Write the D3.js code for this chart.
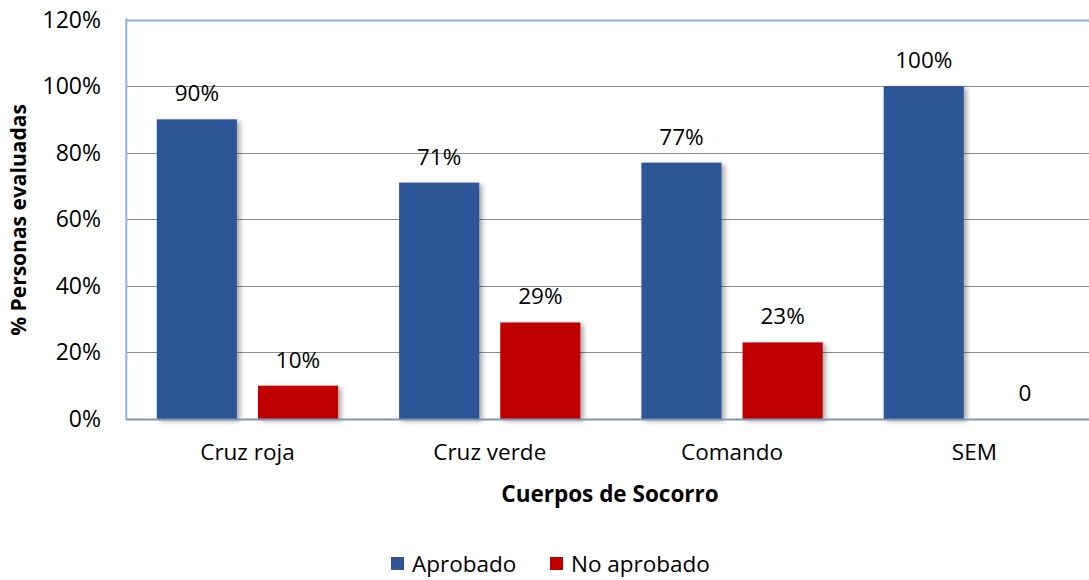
<!DOCTYPE html>
<html>
<head>
<meta charset="utf-8">
<script src="https://cdn.jsdelivr.net/npm/d3@7"></script>
<style>
  body { margin: 0; background: #fff; }
  svg text { font-family: "Open Sans", "Liberation Sans", sans-serif; fill: #000; }
</style>
</head>
<body>
<div id="chart"></div>
<script>
var categories = ["Cruz roja", "Cruz verde", "Comando", "SEM"];
var series = ["Aprobado", "No aprobado"];
var aprobado = [0.90, 0.71, 0.77, 1.00];
var noAprobado = [0.10, 0.29, 0.23, 0];
var noAprobadoLabels = ["10%", "29%", "23%", "0"];
var yTicks = [0, 0.2, 0.4, 0.6, 0.8, 1.0, 1.2];
var colors = ["#2f5597", "#c00000"];

var width = 1089,
  height = 580;

var plot = { left: 126.3, right: 1095.5, top: 19.5, bottom: 419 };

var svg = d3.select("#chart")
  .append("svg")
  .attr("width", width)
  .attr("height", height);

// soft shadow like the office chart
var defs = svg.append("defs");
var filt = defs.append("filter")
  .attr("id", "shadow")
  .attr("x", "-10%").attr("y", "-10%")
  .attr("width", "130%").attr("height", "130%");
filt.append("feDropShadow")
  .attr("dx", 3).attr("dy", 2)
  .attr("stdDeviation", 2.5)
  .attr("flood-color", "#000")
  .attr("flood-opacity", 0.35);

var x0 = d3.scaleBand()
  .domain(categories)
  .range([plot.left, plot.right]);

var x1 = d3.scaleBand()
  .domain(series)
  .range([30.5, x0.bandwidth() - 30.5])
  .paddingInner(0.208);

var y = d3.scaleLinear()
  .domain([0, 1.2])
  .range([plot.bottom, plot.top]);

// gridlines
svg.append("g")
  .selectAll("line")
  .data(yTicks.slice(1))
  .enter().append("line")
  .attr("x1", plot.left)
  .attr("x2", width)
  .attr("y1", function (d) { return Math.round(y(d)) + 0.5; })
  .attr("y2", function (d) { return Math.round(y(d)) + 0.5; })
  .attr("stroke", function (d) { return d === 1.2 ? "#8db3e2" : "#8c8c8c"; })
  .attr("stroke-width", function (d) { return d === 1.2 ? 2 : 1.2; });

// y tick labels
svg.append("g")
  .selectAll("text")
  .data(yTicks)
  .enter().append("text")
  .attr("x", 101)
  .attr("y", function (d) { return y(d); })
  .attr("dy", "0.35em")
  .attr("text-anchor", "end")
  .style("font-size", "23px")
  .text(function (d) { return d3.format(".0%")(d); });

// bars
var rows = categories.map(function (c, i) {
  return [
    { cat: c, s: series[0], v: aprobado[i], label: d3.format(".0%")(aprobado[i]) },
    { cat: c, s: series[1], v: noAprobado[i], label: noAprobadoLabels[i] }
  ];
});

var groups = svg.append("g")
  .selectAll("g")
  .data(rows)
  .enter().append("g")
  .attr("transform", function (d) { return "translate(" + x0(d[0].cat) + ",0)"; });

groups.selectAll("rect")
  .data(function (d) { return d.filter(function (e) { return e.v > 0; }); })
  .enter().append("rect")
  .attr("x", function (d) { return x1(d.s); })
  .attr("y", function (d) { return y(d.v); })
  .attr("width", x1.bandwidth())
  .attr("height", function (d) { return y(0) - y(d.v); })
  .attr("fill", function (d) { return colors[series.indexOf(d.s)]; })
  .attr("filter", "url(#shadow)");

groups.selectAll("text")
  .data(function (d) { return d; })
  .enter().append("text")
  .attr("x", function (d) { return x1(d.s) + x1.bandwidth() / 2; })
  .attr("y", function (d) { return y(d.v) - 26; })
  .attr("dy", "0.35em")
  .attr("text-anchor", "middle")
  .style("font-size", "22.5px")
  .text(function (d) { return d.label; });

// axis lines
svg.append("line")
  .attr("x1", plot.left).attr("x2", width)
  .attr("y1", plot.bottom + 0.5).attr("y2", plot.bottom + 0.5)
  .attr("stroke", "#7f96b2")
  .attr("stroke-width", 2);

svg.append("line")
  .attr("x1", plot.left).attr("x2", plot.left)
  .attr("y1", plot.top - 1).attr("y2", plot.bottom + 1)
  .attr("stroke", "#8db3e2")
  .attr("stroke-width", 2);

// category labels
svg.append("g")
  .selectAll("text")
  .data(categories)
  .enter().append("text")
  .attr("x", function (d) { return x0(d) + x0.bandwidth() / 2; })
  .attr("y", 452)
  .attr("dy", "0.35em")
  .attr("text-anchor", "middle")
  .style("font-size", "22.5px")
  .text(function (d) { return d; });

// axis titles
svg.append("text")
  .attr("x", 610)
  .attr("y", 494)
  .attr("dy", "0.35em")
  .attr("text-anchor", "middle")
  .style("font-size", "22.5px")
  .style("font-weight", "bold")
  .text("Cuerpos de Socorro");

svg.append("text")
  .attr("transform", "translate(19,220) rotate(-90)")
  .attr("dy", "0.35em")
  .attr("text-anchor", "middle")
  .style("font-size", "21px")
  .style("font-weight", "bold")
  .text("% Personas evaluadas");

// legend
var legendX = [391, 550];
var legend = svg.append("g")
  .selectAll("g")
  .data(series)
  .enter().append("g")
  .attr("transform", function (d, i) { return "translate(" + legendX[i] + ",557)"; });

legend.append("rect")
  .attr("width", 13)
  .attr("height", 13)
  .attr("fill", function (d, i) { return colors[i]; });

legend.append("text")
  .attr("x", 21)
  .attr("y", 7)
  .attr("dy", "0.35em")
  .style("font-size", "22.5px")
  .text(function (d) { return d; });
</script>
</body>
</html>
